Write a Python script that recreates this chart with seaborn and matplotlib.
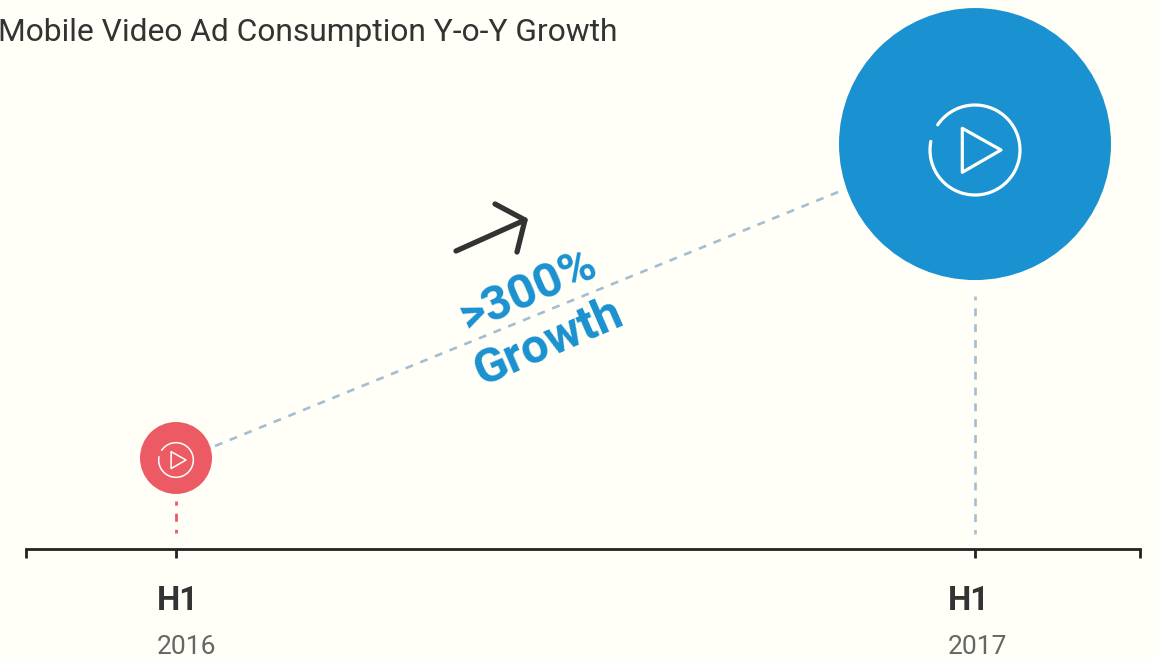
import matplotlib
matplotlib.use("Agg")
import matplotlib.pyplot as plt
import numpy as np
import pandas as pd
import seaborn as sns
from matplotlib.patches import Arc, Polygon
from matplotlib.transforms import Affine2D

# Chart content
title = "Mobile Video Ad Consumption Y-o-Y Growth"
years = [2016, 2017]
half_labels = ["H1", "H1"]
year_labels = ["2016", "2017"]
consumption = [1.0, 4.45]
growth_labels = [">300%", "Growth"]

W, H = 1159, 658
BG = "#FFFFF8"
BLUE = "#1A91D0"
RED = "#EC5B63"
DASH = "#A6BDD1"
DARK = "#232323"
TEXT = "#333333"
GREY = "#666666"

sns.set_theme(style="white")
plt.rcParams["font.family"] = ["Roboto", "DejaVu Sans"]

fig = plt.figure(figsize=(W / 100, H / 100), dpi=100, facecolor=BG)
ax = fig.add_axes([0, 0, 1, 1], facecolor=BG)

# Scales: one year spans 799 px, one unit of consumption spans 91 px, baseline at y=549
ax.set_xlim(2016 - 176 / 799, 2016 + (W - 176) / 799)
ax.set_ylim(-(H - 549) / 91, 549 / 91)


def img(px, py):
    """Image-pixel position (origin top left) to display coordinates."""
    return px, H - py


def img_data(px, py):
    return ax.transData.inverted().transform(img(px, py))


df = pd.DataFrame({"year": years, "consumption": consumption})
diam_pt = np.array([72.0, 272.0]) * 0.72
sns.scatterplot(
    data=df, x="year", y="consumption", hue="year",
    palette={2016: RED, 2017: BLUE}, size="year",
    sizes={2016: diam_pt[0] ** 2, 2017: diam_pt[1] ** 2},
    linewidth=0, legend=False, ax=ax, zorder=3, clip_on=False,
)

# Play icon drawn relative to a centre in image pixels
def play_icon(cx, cy, scale, lw):
    tr = Affine2D().scale(scale).translate(*img(cx, cy))
    ring = Arc((0, 0), 90, 90, theta1=169, theta2=146 + 360,
               transform=tr, color="white", lw=lw, capstyle="round", zorder=5)
    tri = Polygon([(-12.7, 21.7), (26, 0), (-12.7, -22.3)], closed=True, fill=False,
                  ec="white", lw=lw, joinstyle="round", transform=tr, zorder=5)
    ax.add_artist(ring)
    ax.add_artist(tri)


play_icon(975, 150, 1.0, 2.3)
play_icon(176, 460, 0.385, 1.1)

# Dashed guides, all on the same 8 px on / 8 px off rhythm
(x0, y0), (x1, y1) = img_data(215, 446), img_data(843, 190)
sns.lineplot(x=[x0, x1], y=[y0, y1], color=DASH, lw=1.9, ax=ax, zorder=2,
             errorbar=None, sort=False).lines[-1].set_dashes((3.0, 3.0))

ax.vlines(years[0], img_data(0, 501)[1], img_data(0, 533)[1], color="#F0566A", lw=2.0,
          linestyles=(1.4, (2.9, 2.9)), zorder=2)
ax.vlines(years[1], img_data(0, 296)[1], img_data(0, 534)[1], color=DASH, lw=1.9,
          linestyles=(1.5, (3.0, 3.0)), zorder=2)

# Timeline axis
for s in ["top", "left", "right"]:
    ax.spines[s].set_visible(False)
spine = ax.spines["bottom"]
spine.set_position(("data", 0))
left_end, right_end = img_data(26, 0)[0], img_data(1140, 0)[0]
spine.set_bounds(left_end, right_end)
spine.set_color(DARK)
spine.set_linewidth(2.0)
ax.set_xticks([left_end, years[0], years[1], right_end])
ax.set_xticklabels([])
ax.set_yticks([])
ax.set_xlabel("")
ax.set_ylabel("")
ax.tick_params(axis="x", bottom=True, direction="out", length=6.5, width=2.0, color=DARK)

# Period labels, placed from the left edge of each text block
label_left = [157, 948]
for px, half, lab in zip(label_left, half_labels, year_labels):
    ax.text(px, H - 610, half, transform=None, fontsize=23.6, fontweight="bold",
            color=TEXT, ha="left", va="baseline")
    ax.text(px, H - 654, lab, transform=None, fontsize=19, color=GREY,
            ha="left", va="baseline")

ax.text(-2, H - 41, title, transform=None, fontsize=22.9, color=TEXT, ha="left", va="baseline")

# Growth callout, following the slope of the connector
ax.text(*img(528, 291), growth_labels[0], transform=None, rotation=23.5, rotation_mode="anchor",
        fontsize=35, fontweight="bold", color=BLUE, ha="center", va="center")
ax.text(*img(549, 343), growth_labels[1], transform=None, rotation=23.5, rotation_mode="anchor",
        fontsize=35, fontweight="bold", color=BLUE, ha="center", va="center")

# Upward arrow
arrow_style = dict(transform=None, color="#333333", lw=3.8, solid_capstyle="round",
                   solid_joinstyle="round", zorder=4)
ax.plot(*zip(img(456, 251), img(525, 220)), **arrow_style)
ax.plot(*zip(img(495, 204), img(525, 220), img(517, 252)), **arrow_style)

fig.savefig("out.png", dpi=100, facecolor=BG)
